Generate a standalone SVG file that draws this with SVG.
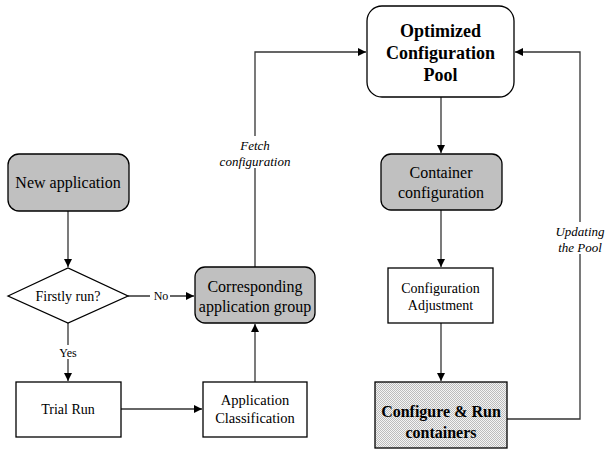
<svg xmlns="http://www.w3.org/2000/svg" width="605" height="458" viewBox="0 0 605 458">
<style>
.box{stroke:#000;stroke-width:1.3}
.gray{fill:#c0c0c0}
.white{fill:#fff}
.ln{fill:none;stroke:#333;stroke-width:1.3}
</style>
<defs>
<marker id="arr" markerWidth="10" markerHeight="10" refX="9" refY="5" orient="auto" markerUnits="userSpaceOnUse">
<path d="M1,1 L9,5 L1,9 Z" fill="#000"/>
</marker>
<pattern id="chk" width="2" height="2" patternUnits="userSpaceOnUse">
<rect width="2" height="2" fill="#f4f4f4"/>
<rect width="1" height="1" fill="#bcbcbc"/>
<rect x="1" y="1" width="1" height="1" fill="#bcbcbc"/>
</pattern>
</defs>
<rect width="605" height="458" fill="#fff"/>
<g font-family="Liberation Serif, Times New Roman, serif" text-anchor="middle">
<g id="connectors">
<path class="ln" d="M68,211 V267" marker-end="url(#arr)"/>
<path class="ln" d="M128,296 H194" marker-end="url(#arr)"/>
<path class="ln" d="M68,323 V381" marker-end="url(#arr)"/>
<path class="ln" d="M121,409 H202" marker-end="url(#arr)"/>
<path class="ln" d="M255,382 V324" marker-end="url(#arr)"/>
<path class="ln" d="M255,267 V52 H366" marker-end="url(#arr)"/>
<path class="ln" d="M441,97 V153" marker-end="url(#arr)"/>
<path class="ln" d="M441,210 V267" marker-end="url(#arr)"/>
<path class="ln" d="M441,323 V381" marker-end="url(#arr)"/>
<path class="ln" d="M507,419 H580 V52 H515" marker-end="url(#arr)"/>
<rect x="150" y="289" width="20" height="14" fill="#fff"/>
<text font-family="Liberation Serif" x="161" y="300" font-size="12">No</text>
<rect x="55" y="345" width="26" height="14" fill="#fff"/>
<text font-family="Liberation Serif" x="68" y="357" font-size="12">Yes</text>
<rect x="218" y="136" width="74" height="32" fill="#fff"/>
<text font-family="Liberation Serif" font-style="italic" x="255" y="150" font-size="13">Fetch</text>
<text font-family="Liberation Serif" font-style="italic" x="255" y="166" font-size="13">configuration</text>
<rect x="556" y="222" width="48" height="32" fill="#fff"/>
<text font-family="Liberation Serif" font-style="italic" x="580" y="236" font-size="13">Updating</text>
<text font-family="Liberation Serif" font-style="italic" x="580" y="252" font-size="13">the Pool</text>
</g>
<g id="new-application">
<rect class="box gray" x="8" y="154" width="121" height="57" rx="11"/>
<text font-family="Liberation Serif" x="68" y="188" font-size="16">New application</text>
</g>
<g id="firstly-run">
<polygon class="box white" points="8,296 68,268 128,296 68,323"/>
<text font-family="Liberation Serif" x="68" y="301" font-size="14">Firstly run?</text>
</g>
<g id="trial-run">
<rect class="box white" x="16" y="382" width="105" height="55"/>
<text font-family="Liberation Serif" x="68" y="414" font-size="14">Trial Run</text>
</g>
<g id="application-classification">
<rect class="box white" x="203" y="382" width="104" height="55"/>
<text font-family="Liberation Serif" x="255" y="405" font-size="14.5">Application</text>
<text font-family="Liberation Serif" x="255" y="423" font-size="14.5">Classification</text>
</g>
<g id="corresponding-group">
<rect class="box gray" x="195" y="267" width="120" height="56" rx="10"/>
<text font-family="Liberation Serif" x="255" y="292" font-size="16">Corresponding</text>
<text font-family="Liberation Serif" x="255" y="312" font-size="16">application group</text>
</g>
<g id="pool">
<rect class="box white" x="367" y="6" width="147" height="91" rx="15"/>
<text font-family="Liberation Serif" font-weight="bold" x="440.5" y="37" font-size="18">Optimized</text>
<text font-family="Liberation Serif" font-weight="bold" x="440.5" y="59" font-size="18">Configuration</text>
<text font-family="Liberation Serif" font-weight="bold" x="440.5" y="81" font-size="18">Pool</text>
</g>
<g id="container-configuration">
<rect class="box gray" x="381" y="154" width="121" height="56" rx="10"/>
<text font-family="Liberation Serif" x="441" y="178" font-size="16">Container</text>
<text font-family="Liberation Serif" x="441" y="198" font-size="16">configuration</text>
</g>
<g id="configuration-adjustment">
<rect class="box white" x="388" y="268" width="105" height="55"/>
<text font-family="Liberation Serif" x="440.5" y="293" font-size="14">Configuration</text>
<text font-family="Liberation Serif" x="440.5" y="310" font-size="14">Adjustment</text>
</g>
<g id="configure-run">
<rect class="box" fill="url(#chk)" x="375" y="382" width="132" height="66"/>
<text font-family="Liberation Serif" font-weight="bold" x="441" y="417" font-size="16">Configure &amp; Run</text>
<text font-family="Liberation Serif" font-weight="bold" x="441" y="438" font-size="16">containers</text>
</g>
</g>
</svg>
